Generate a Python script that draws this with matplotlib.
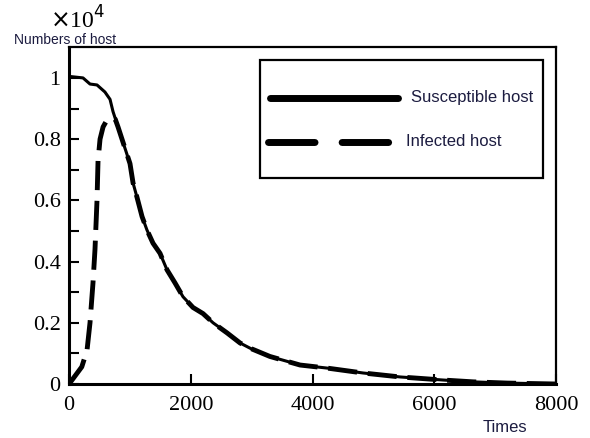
import matplotlib
matplotlib.use("Agg")
import matplotlib.pyplot as plt
from matplotlib.lines import Line2D
from matplotlib.patches import Rectangle
import numpy as np

# Susceptible host (x10^4)
t_s = [0, 230, 345, 460, 590, 674, 723, 805, 887, 1002, 1052, 1117, 1200, 1281, 1380,
       1495, 1610, 1742, 1873, 2037, 2202, 2366, 2596, 2810, 2974, 3300, 3795, 4240,
       4830, 5440, 6145, 6640, 7200, 8000]
s_vals = [1.005, 1.0, 0.98, 0.977, 0.954, 0.93, 0.89, 0.84, 0.79, 0.72, 0.657, 0.61,
          0.547, 0.503, 0.46, 0.427, 0.373, 0.33, 0.285, 0.25, 0.23, 0.2, 0.167, 0.134,
          0.117, 0.09, 0.062, 0.052, 0.036, 0.023, 0.013, 0.007, 0.003, 0.0]

# Infected host (x10^4)
t_i = [0, 50, 210, 296, 345, 394, 427, 460, 477, 510, 560, 625, 700, 760, 805, 887,
       1002, 1052, 1117, 1200, 1281, 1380, 1495, 1610, 1742, 1873, 2037, 2202, 2366,
       2596, 2810, 2974, 3300, 3795, 4240, 4830, 5440, 6145, 6640, 7200, 8000]
i_vals = [0.0, 0.013, 0.056, 0.11, 0.2, 0.33, 0.44, 0.6, 0.73, 0.8, 0.84, 0.863, 0.87,
          0.865, 0.84, 0.79, 0.72, 0.657, 0.61, 0.547, 0.503, 0.46, 0.427, 0.373, 0.33,
          0.285, 0.25, 0.23, 0.2, 0.167, 0.134, 0.117, 0.09, 0.062, 0.052, 0.036, 0.023,
          0.013, 0.007, 0.003, 0.0]

series_labels = ["Susceptible host", "Infected host"]
x_ticks = [0, 2000, 4000, 6000, 8000]
y_ticks = [0, 0.2, 0.4, 0.6, 0.8, 1.0]
y_ticklabels = ["0", "0.2", "0.4", "0.6", "0.8", "1"]

W, H = 590, 438
L, R, T, B = 69, 556, 47, 384

fig = plt.figure(figsize=(W/100, H/100), dpi=100)
ax = fig.add_axes([L/W, 1-B/H, (R-L)/W, (B-T)/H])

ax.plot(t_s, s_vals, color="black", lw=2.2)
ax.plot(t_i, i_vals, color="black", lw=3.5, dashes=(6, 2.2))

ax.set_xlim(0, 8000)
ax.set_ylim(0, 1.101)
ax.set_xticks(x_ticks)
ax.set_xticklabels([str(v) for v in x_ticks], family="Liberation Serif", fontsize=16)
ax.set_yticks(y_ticks)
ax.set_yticklabels(y_ticklabels, family="Liberation Serif", fontsize=16)
ax.set_yticks(np.arange(0.1, 1.1, 0.2), minor=True)
ax.tick_params(axis="both", which="major", direction="in", length=7, width=1.5, pad=6)
ax.tick_params(axis="x", which="major", pad=9)
ax.tick_params(axis="y", which="minor", direction="in", length=7, width=1.5)

for side in ["left", "bottom"]:
    ax.spines[side].set_linewidth(2.2)
for side in ["top", "right"]:
    ax.spines[side].set_linewidth(1.6)

fig.text(14/W, 1-40/H, "Numbers of host", family="Liberation Sans", fontsize=10,
         color="#1c1c40", va="center", ha="left")
fig.text(50/W, 1-20/H, r"$\times$10$^4$", family="Liberation Serif", fontsize=17,
         va="center", ha="left")
fig.text(505/W, 1-428/H, "Times", family="Liberation Sans", fontsize=12,
         color="#1c1c40", va="center", ha="center")

# legend box (drawn manually, in axes fraction coordinates)
def ax_x(px):
    return (px - L) / (R - L)

def ax_y(py):
    return (B - py) / (B - T)

tr = ax.transAxes
ax.add_patch(Rectangle((ax_x(260), ax_y(178)), ax_x(543) - ax_x(260), ax_y(60) - ax_y(178),
                       transform=tr, facecolor="white", edgecolor="black", lw=1.6, zorder=5))
ax.add_line(Line2D([ax_x(270), ax_x(398)], [ax_y(98), ax_y(98)], transform=tr,
                   color="black", lw=5, solid_capstyle="round", zorder=6))
ax.add_line(Line2D([ax_x(268), ax_x(393)], [ax_y(142), ax_y(142)], transform=tr,
                   color="black", lw=5, dashes=(6.7, 3.9), dash_capstyle="round", zorder=6))
ax.text(ax_x(411), ax_y(98), series_labels[0], transform=tr, family="Liberation Sans",
        fontsize=12, color="#1c1c40", va="center", ha="left", zorder=7)
ax.text(ax_x(406), ax_y(142), series_labels[1], transform=tr, family="Liberation Sans",
        fontsize=12, color="#1c1c40", va="center", ha="left", zorder=7)

fig.savefig("out.png", dpi=100)
